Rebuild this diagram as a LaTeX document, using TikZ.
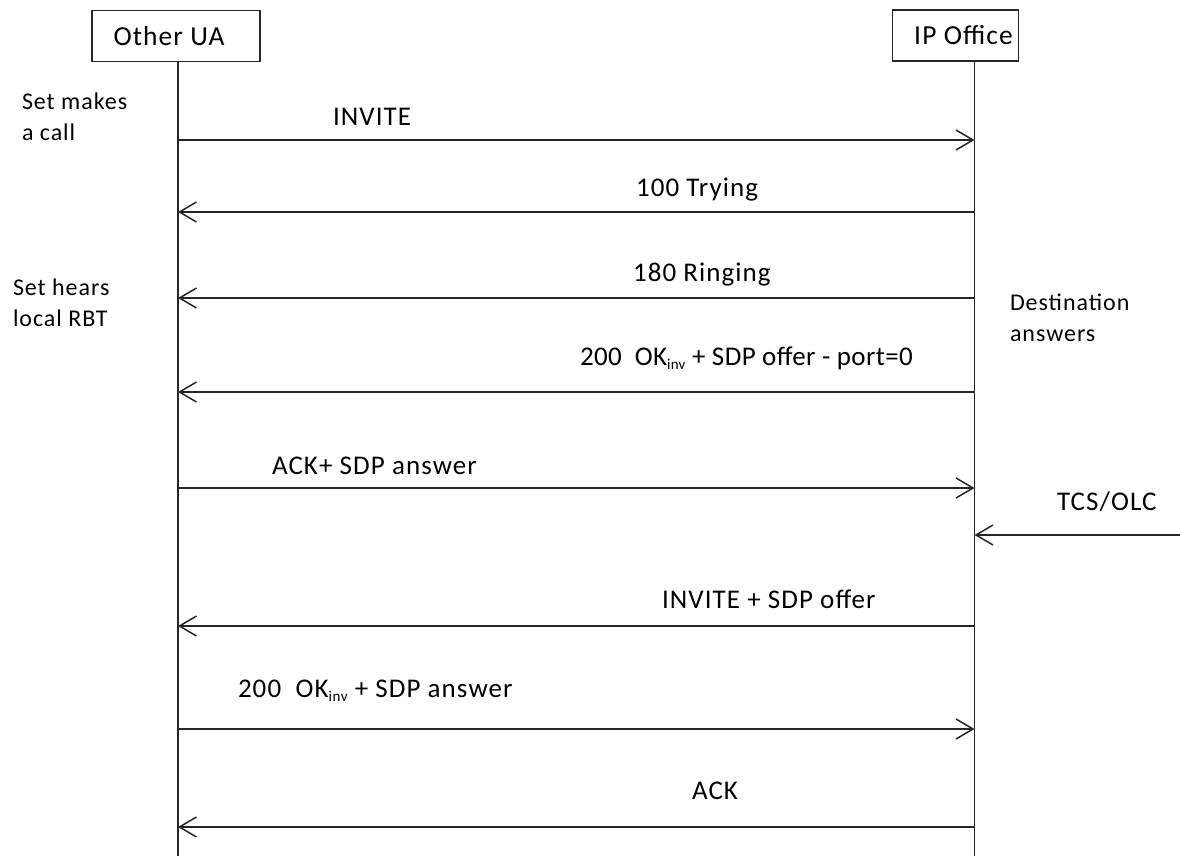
\documentclass[tikz,border=0pt]{standalone}
\usepackage{fontspec}
\setmainfont{Carlito}[LetterSpace=4.0]
\usetikzlibrary{arrows.meta}
\newcommand{\sbinv}{\raisebox{-4pt}{\fontsize{15}{15}\selectfont inv}}
\begin{document}
\begin{tikzpicture}[x=1pt,y=-1pt,
  every node/.style={inner sep=0pt, outer sep=0pt},
  actor/.style={draw=black!85, line width=1.4pt, minimum width=#1, minimum height=51pt, font=\fontsize{27.5}{30}\selectfont},
  life/.style={draw=black!85, line width=1.4pt},
  msg/.style={draw=black!85, line width=1.5pt, -{Straight Barb[length=17pt,width=20pt,line width=1.5pt]}},
  lbl/.style={anchor=base west, font=\fontsize{27}{30}\selectfont},
  note/.style={anchor=base west, font=\fontsize{24}{31}\selectfont, align=left}]
\useasboundingbox (0,0) rectangle (1180,856);
\fill[white] (0,0) rectangle (1180,856);
% actors
\node[actor=168pt] (ua) at (176,36) {Other UA\hspace*{14pt}};
\node[actor=126pt] (ipo) at (955.5,35.5) {\hspace*{16pt}IP Office};
\coordinate (uaBot) at (178,856);
\coordinate (ipoBot) at (974.5,856);
\draw[life] (ua.south -| uaBot) -- (uaBot);
\draw[life] (ipo.south -| ipoBot) -- (ipoBot);
% message anchor points on lifelines
\foreach \n/\y in {m1/140,m2/212,m3/298,m4/392,m5/488,m6/535,m7/626,m8/729,m9/827}{
  \coordinate (a-\n) at (178,\y);
  \coordinate (b-\n) at (974.5,\y);
}
\coordinate (ext-m6) at (1180,535);
% messages
\draw[msg] (a-m1) -- (b-m1);
\draw[msg] (b-m2) -- (a-m2);
\draw[msg] (b-m3) -- (a-m3);
\draw[msg] (b-m4) -- (a-m4);
\draw[msg] (a-m5) -- (b-m5);
\draw[msg] (ext-m6) -- (b-m6);
\draw[msg] (b-m7) -- (a-m7);
\draw[msg] (a-m8) -- (b-m8);
\draw[msg] (b-m9) -- (a-m9);
% labels
\node[lbl] (l1) at (333,125) {INVITE};
\node[lbl] (l2) at (636,196) {100 Trying};
\node[lbl] (l3) at (633,281) {180 Ringing};
\node[lbl] (l4) at (580,365) {\addfontfeature{LetterSpace=1.5}200\ \ OK\sbinv\ + SDP offer - port=0};
\node[lbl] (l5) at (272,474) {ACK+ SDP answer};
\node[lbl] (l6) at (1057,510) {TCS/OLC};
\node[lbl] (l7) at (662,608) {INVITE + SDP offer};
\node[lbl] (l8) at (238,697) {200\ \ OK\sbinv\ + SDP answer};
\node[lbl] (l9) at (692,799) {ACK};
% notes
\node[note] (n1) at (22,140) {Set makes\\a call};
\node[note] (n2) at (13,326) {Set hears\\local RBT};
\node[note] (n3) at (1010,341) {Destination\\answers};
\end{tikzpicture}
\end{document}
